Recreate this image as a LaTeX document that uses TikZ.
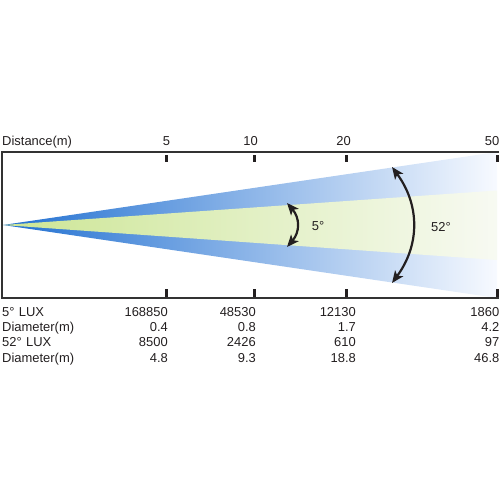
\documentclass[tikz,border=0pt]{standalone}
\usepackage{fontspec}
\setmainfont{Liberation Sans}
\usetikzlibrary{arrows.meta}
\definecolor{ink}{HTML}{231F20}
\definecolor{frame}{HTML}{333333}
\definecolor{blueA}{rgb}{0.13,0.44,0.82}
\definecolor{blueB}{rgb}{0.42,0.65,0.88}
\definecolor{blueC}{rgb}{0.97,0.98,1.0}
\definecolor{greenA}{rgb}{0.80,0.90,0.58}
\definecolor{greenB}{rgb}{0.87,0.93,0.76}
\definecolor{greenC}{rgb}{0.97,0.98,0.95}
\tikzset{
  txt/.style={font=\fontsize{13}{15}\selectfont, text=ink, inner sep=0pt},
  lab/.style={txt, anchor=base west},
  num/.style={txt, anchor=base east},
  hdr/.style={txt, anchor=base},
  tick/.style={fill=ink, draw=none},
  framel/.style={draw=frame, line width=1.5bp},
  anglearrow/.style={draw=ink, line width=2.2bp, {Stealth[length=12bp,width=10bp,inset=3bp]}-{Stealth[length=12bp,width=10bp,inset=3bp]}},
}
\begin{document}
\begin{tikzpicture}[x=1bp,y=-1bp]
\useasboundingbox (0,0) rectangle (500,500);
% beams
\coordinate (apex) at (3,225);
\shade[left color=blueA, middle color=blueB, right color=blueC]
  (apex) -- (497,152) -- (497,298) -- cycle;
\shade[left color=greenA, middle color=greenB, right color=greenC]
  (apex) -- (497,190.5) -- (497,260) -- cycle;
% frame
\draw[framel] (499,152) -- (2,152) -- (2,298) -- (499,298);
% ticks
\foreach \x/\n in {166/a,254.5/b,346/c,497.5/d}{
  \fill[tick] (\x-1.5,155) rectangle (\x+1.5,162.5);
  \fill[tick] (\x-1.5,289) rectangle (\x+1.5,297);
}
% header
\node[lab] (dist) at (2,146) {Distance(m)};
\node[hdr] (h5) at (166.5,146) {5};
\node[hdr] (h10) at (250.5,146) {10};
\node[hdr] (h20) at (343.5,146) {20};
\node[num] (h50) at (499.5,146) {50};
% angle arrows
\coordinate (s1) at (287,203);
\coordinate (s2) at (287,247);
\draw[anglearrow] (s1) .. controls (300,218) and (300,232) .. (s2);
\coordinate (w1) at (392,167);
\coordinate (w2) at (392,283);
\draw[anglearrow] (w1) .. controls (420,205) and (420,245) .. (w2);
\node[txt] (l5) at (318,226) {5°};
\node[txt] (l52) at (441,227) {52°};
% table
\node[lab] (r1) at (2,316) {5°\,\,LUX};
\node[lab] (r2) at (2,331) {Diameter(m)};
\node[lab] (r3) at (2,346.5) {52°\,\,LUX};
\node[lab] (r4) at (2,362) {Diameter(m)};
\node[num] (a1) at (168,316) {168850};
\node[num] (b1) at (256,316) {48530};
\node[num] (c1) at (356,316) {12130};
\node[num] (d1) at (499.5,316) {1860};
\node[num] (a2) at (168,331) {0.4};
\node[num] (b2) at (256,331) {0.8};
\node[num] (c2) at (356,331) {1.7};
\node[num] (d2) at (499.5,331) {4.2};
\node[num] (a3) at (168,346.5) {8500};
\node[num] (b3) at (256,346.5) {2426};
\node[num] (c3) at (356,346.5) {610};
\node[num] (d3) at (499.5,346.5) {97};
\node[num] (a4) at (168,362) {4.8};
\node[num] (b4) at (256,362) {9.3};
\node[num] (c4) at (356,362) {18.8};
\node[num] (d4) at (499.5,362) {46.8};
\end{tikzpicture}
\end{document}
